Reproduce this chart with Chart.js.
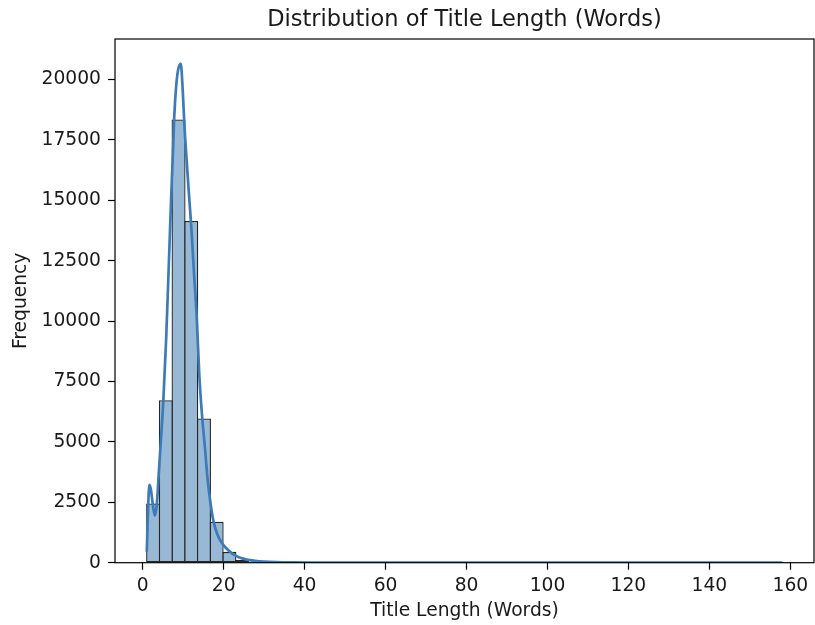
<!DOCTYPE html>
<html><head><meta charset="utf-8">
<script src="https://cdn.jsdelivr.net/npm/chart.js@4"></script>
<style>html,body{margin:0;padding:0;background:#fff}#wrap{width:815px;height:625px}</style>
</head><body><div id="wrap"><canvas id="c" width="815" height="625"></canvas></div>
<script>
const chartTitle = 'Distribution of Title Length (Words)';
const xLabel = 'Title Length (Words)';
const yLabel = 'Frequency';
// histogram: 50 bins from 1 to 158
const binStart = 1;
const binWidth = 3.14;
const binCounts = [2450, 6730, 18350, 14150, 5970, 1700, 450, 110, 35, 14,
                   7, 4, 3, 2, 1, 1, 1, 0, 1, 0,
                   1, 0, 0, 1, 0, 0, 0, 0, 0, 0,
                   0, 0, 0, 0, 0, 0, 0, 0, 0, 0,
                   0, 0, 0, 0, 0, 0, 0, 0, 0, 1];
// KDE curve (scaled to counts)
const kdeX = [1.0, 1.3, 1.65, 2.0, 2.5, 3.0, 3.5, 4.0, 4.5, 5.1, 5.8, 6.5, 7.0, 7.4, 7.8, 8.3, 8.8, 9.4, 9.9, 10.3,
              10.8, 11.4, 12.0, 12.7, 13.3, 14.0, 14.7, 15.4, 16.0, 16.8, 17.5, 18.5, 19.5, 20.4, 21.5, 22.5, 23.6, 25, 26.5, 27.8,
              30, 33, 37, 42, 50, 60, 75, 90, 110, 130, 145, 158];
const kdeY = [450, 2100, 3220, 3050, 2400, 1950, 2450, 3800, 5080, 6730, 9300, 12600, 15000, 16700, 18500, 19800, 20450, 20650, 19500, 18100,
              16800, 15300, 13900, 11900, 10300, 7700, 6000, 4700, 3500, 2400, 1700, 1150, 830, 640, 460, 330, 240, 160, 105, 75,
              45, 25, 14, 9, 6, 4, 3, 2, 2, 2, 2, 1];
const xTicks = [0, 20, 40, 60, 80, 100, 120, 140, 160];
const yTicks = [0, 2500, 5000, 7500, 10000, 12500, 15000, 17500, 20000];

const FONT = '"DejaVu Sans", sans-serif';
const TXT = '#1a1a1a';

const boxTitle = {
  id: 'boxTitle',
  afterDraw(chart) {
    const {ctx, chartArea: a} = chart;
    ctx.save();
    ctx.strokeStyle = '#000';
    ctx.lineWidth = 1.2;
    ctx.strokeRect(a.left, a.top, a.right - a.left, a.bottom - a.top);
    ctx.fillStyle = TXT;
    ctx.font = '22.5px ' + FONT;
    ctx.textAlign = 'center';
    ctx.textBaseline = 'alphabetic';
    ctx.fillText(chartTitle, (a.left + a.right) / 2, 26);
    ctx.restore();
  }
};

new Chart(document.getElementById('c'), {
  type: 'bar',
  data: {
    datasets: [
      {
        type: 'line',
        order: 0,
        data: kdeX.map((x, i) => ({x: x, y: kdeY[i]})),
        borderColor: '#3c7bb7',
        borderWidth: 2.7,
        pointRadius: 0,
        fill: false,
        cubicInterpolationMode: 'monotone'
      },
      {
        type: 'bar',
        order: 1,
        data: binCounts.map((c, i) => ({x: binStart + binWidth * (i + 0.5), y: c})),
        backgroundColor: 'rgba(70,130,180,0.56)',
        borderColor: '#262626',
        borderWidth: 1.3,
        borderSkipped: false,
        categoryPercentage: 1,
        barPercentage: 1.102
      }
    ]
  },
  options: {
    responsive: false,
    animation: false,
    layout: {padding: {top: 39, right: 1, left: 0, bottom: 0}},
    plugins: {legend: {display: false}, tooltip: {enabled: false}, title: {display: false}},
    scales: {
      x: {
        type: 'linear',
        min: -6.85,
        max: 165.85,
        offset: false,
        afterBuildTicks: s => { s.ticks = xTicks.map(v => ({value: v})); },
        afterFit: s => { s.height = 62.3; },
        border: {display: false},
        grid: {display: true, drawOnChartArea: false, drawTicks: true, tickLength: 7, tickColor: '#000', tickWidth: 1.2, offset: false},
        ticks: {color: TXT, font: {family: FONT, size: 18.7}, padding: 5, maxRotation: 0, callback: v => String(v)},
        title: {display: true, text: xLabel, color: TXT, font: {family: FONT, size: 18.7}, padding: {top: 0, bottom: 3}}
      },
      y: {
        type: 'linear',
        min: 0,
        max: 21680,
        afterBuildTicks: s => { s.ticks = yTicks.map(v => ({value: v})); },
        afterFit: s => { s.width = 115; },
        border: {display: false},
        grid: {display: true, drawOnChartArea: false, drawTicks: true, tickLength: 7, tickColor: '#000', tickWidth: 1.2},
        ticks: {color: TXT, font: {family: FONT, size: 18.7}, padding: 7, callback: v => String(v)},
        title: {display: true, text: yLabel, color: TXT, font: {family: FONT, size: 18.7}, padding: {top: 10.2, bottom: 0}}
      }
    }
  },
  plugins: [boxTitle]
});
</script>
</body></html>
